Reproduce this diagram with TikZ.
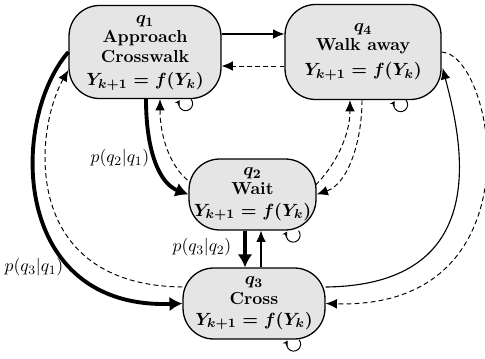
\documentclass[tikz,border=0pt]{standalone}
\usepackage{amsmath}
\usetikzlibrary{arrows.meta,calc}
\begin{document}
\begin{tikzpicture}[x=0.62pt,y=0.62pt,
  state/.style={draw=black, line width=0.8pt, fill=black!10, rounded corners=19pt,
    align=center, font=\fontsize{10.8}{12}\selectfont\bfseries\boldmath, inner sep=0pt},
  solidarr/.style={line width=0.7pt, -{Latex[length=7pt,width=6pt]}},
  thickarr/.style={line width=2.4pt, -{Latex[length=8pt,width=9pt]}},
  dasharr/.style={line width=0.6pt, dash pattern=on 3pt off 2pt, -{Latex[length=7pt,width=6pt]}},
  loopy/.style={line width=0.6pt, -{Stealth[length=3pt,width=3.5pt]}},
  lbl/.style={inner sep=0pt, font=\fontsize{11}{13}\selectfont}
]
\useasboundingbox (0,0) rectangle (485,358);

\node[state, minimum width=94.2pt, minimum height=57.7pt] (q1) at (145,306)
  {\rule{0pt}{6pt}$q_1$\\Approach\\Crosswalk\\[2.5pt]$Y_{k+1}=f(Y_k)$};
\node[state, minimum width=96.7pt, minimum height=58.9pt] (q4) at (363,306)
  {$q_4$\\Walk away\\[3.5pt]$Y_{k+1}=f(Y_k)$};
\node[state, minimum width=78.7pt, minimum height=44pt] (q2) at (252.5,163.5)
  {$q_2$\\[-0.8pt]Wait\\[1.7pt]$Y_{k+1}=f(Y_k)$};
\node[state, minimum width=88pt, minimum height=44pt] (q3) at (254,54.5)
  {$q_3$\\Cross\\[1pt]$Y_{k+1}=f(Y_k)$};

% q1 <-> q4
\draw[solidarr] ($(q1.east)+(0,18)$) -- ($(q4.west)+(0,18)$);
\draw[dasharr] ($(q4.west)+(0,-14)$) -- ($(q1.east)+(0,-14)$);

% q1 <-> q2
\draw[thickarr] ($(q1.south)+(1,0)$) .. controls +(0,-52) and +(-29,11) .. (q2.west);
\draw[dasharr] ($(q2.west)+(-1,14.5)$) .. controls +(-18,15) and +(0,-36) .. ($(q1.south)+(15,0)$);

% q4 <-> q2
\draw[dasharr] ($(q4.south)+(-1,0)$) .. controls +(0,-40) and +(32,11) .. (q2.east);
\draw[dasharr] ($(q2.east)+(-1,9.5)$) .. controls +(20,20) and +(0,-35) .. ($(q4.south)+(-13,0)$);

% q2 <-> q3
\draw[thickarr] ($(q2.south)+(-7.5,0)$) -- ($(q3.north)+(-9,0)$);
\draw[solidarr] ($(q3.north)+(7,0)$) -- ($(q2.south)+(8.5,0)$);

% q1 <-> q3
\draw[thickarr] (q1.west) .. controls +(-59,-68) and +(-172,-6) .. (q3.west);
\draw[dasharr] ($(q3.west)+(0,16.5)$) .. controls +(-163,2) and +(-34,-60) .. ($(q1.west)+(0,-18)$);

% q3 <-> q4
\draw[solidarr] ($(q3.east)+(0,16.5)$) .. controls +(175,2) and +(16,-62) .. ($(q4.east)+(1,-16)$);
\draw[dasharr] (q4.east) .. controls +(54,-3) and +(215,-6) .. (q3.east);

% self loops
\draw[loopy] ($(q1.south)+(46,0)$) arc[start angle=40, end angle=-210, radius=7];
\draw[loopy] ($(q4.south)+(43,0)$) arc[start angle=40, end angle=-210, radius=7];
\draw[loopy] ($(q2.south)+(46,0)$) arc[start angle=40, end angle=-210, radius=7];
\draw[loopy] ($(q3.south)+(45,0)$) arc[start angle=40, end angle=-210, radius=7];

% labels
\node[lbl] (l21) at (120,200) {$p(q_2|q_1)$};
\node[lbl] (l32) at (202,111) {$p(q_3|q_2)$};
\node[lbl] (l31) at (34,91) {$p(q_3|q_1)$};
\end{tikzpicture}
\end{document}
